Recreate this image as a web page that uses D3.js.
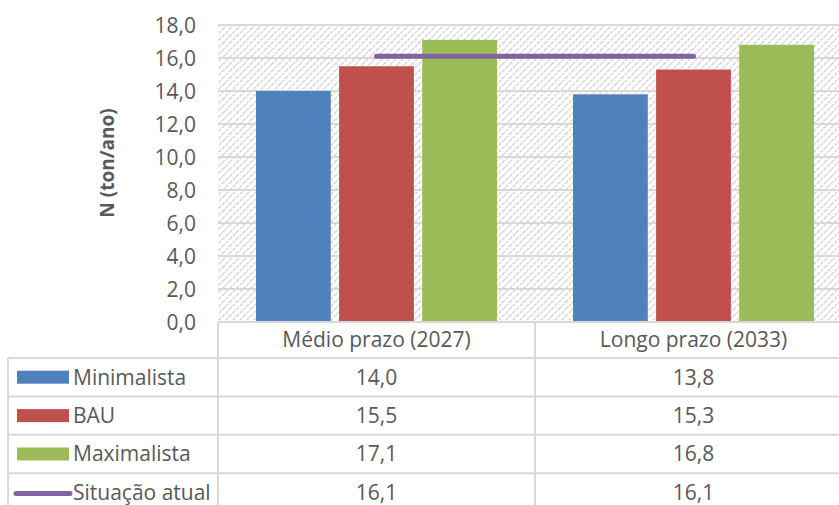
<!DOCTYPE html>
<html><head><meta charset="utf-8">
<script src="https://cdn.jsdelivr.net/npm/d3@7"></script>
<style>body{margin:0;background:#fff;} svg{display:block;}</style>
</head><body>
<svg id="c" width="839" height="505"></svg>
<script>
const categories = ["Médio prazo (2027)", "Longo prazo (2033)"];
const seriesNames = ["Minimalista", "BAU", "Maximalista"];
const minimalista = [14.0, 13.8];
const bau = [15.5, 15.3];
const maximalista = [17.1, 16.8];
const situacaoAtual = [16.1, 16.1];
const yTicks = [0, 2, 4, 6, 8, 10, 12, 14, 16, 18];
const colors = {"Minimalista":"#4F81BD","BAU":"#C0504D","Maximalista":"#9BBB59","Situação atual":"#8064A2"};
const fmt = v => v.toFixed(1).replace(".", ",");

const svg = d3.select("#c");
const font = "'Open Sans', sans-serif";
const txt = "#595959";
const grid = "#D9D9D9";

const L = 218, W = 634, T = 25, B = 322;
const x = d3.scaleBand().domain(categories).range([L, L + W]);
const xs = d3.scaleBand().domain(seriesNames).range([38, x.bandwidth() - 38]).paddingInner(0.1);
const y = d3.scaleLinear().domain([0, 18]).range([B, T]);

// hatch pattern
const defs = svg.append("defs");
const pat = defs.append("pattern").attr("id","hatch").attr("patternUnits","userSpaceOnUse")
  .attr("width",7).attr("height",7);
pat.append("path").attr("d","M-1,8 L8,-1 M-1,1 L1,-1 M6,8 L8,6")
  .attr("stroke","#D3D3D3").attr("stroke-width",1.4).attr("stroke-dasharray","3,1");
svg.append("rect").attr("x",L).attr("y",T).attr("width",W).attr("height",B-T).attr("fill","url(#hatch)");

// gridlines
svg.append("g").selectAll("line").data(yTicks).join("line")
  .attr("x1",L).attr("x2",L+W).attr("y1",d=>y(d)).attr("y2",d=>y(d))
  .attr("stroke",grid).attr("stroke-width",2);

// y axis labels
const yAxis = d3.axisLeft(y).tickValues(yTicks).tickFormat(fmt).tickSize(0).tickPadding(0);
const gy = svg.append("g").attr("transform",`translate(196,0)`).call(yAxis);
gy.select(".domain").remove();
gy.selectAll("text").attr("font-family",font).attr("font-size",21).attr("fill",txt).attr("dy","0.35em");

// y title
svg.append("text").attr("transform","translate(114,163) rotate(-90)")
  .attr("text-anchor","middle").attr("font-family",font).attr("font-size",19)
  .attr("font-weight","bold").attr("fill",txt).text("N (ton/ano)");

// bars
const seriesData = [minimalista, bau, maximalista];
seriesNames.forEach((s, si) => {
  svg.append("g").selectAll("rect").data(categories).join("rect")
    .attr("x", c => x(c) + xs(s)).attr("width", xs.bandwidth())
    .attr("y", (c, i) => y(seriesData[si][i])).attr("height", (c, i) => B - y(seriesData[si][i]))
    .attr("fill", colors[s]);
});

// line
const line = d3.line().x((d, i) => x(categories[i]) + x.bandwidth()/2).y(d => y(d));
svg.append("path").datum(situacaoAtual).attr("d", line).attr("fill","none")
  .attr("stroke", colors["Situação atual"]).attr("stroke-width",5).attr("stroke-linecap","round");

// data table
const rowH = 38.4, top0 = 358;
const tg = svg.append("g");
const tl = (x1,y1,x2,y2) => tg.append("line").attr("x1",x1).attr("y1",y1).attr("x2",x2).attr("y2",y2)
  .attr("stroke",grid).attr("stroke-width",2);
tl(L, B, L+W, B);
for (let r = 0; r <= 4; r++) tl(8, top0 + r*rowH, L+W, top0 + r*rowH);
tl(8, top0, 8, 510);
tl(L, B, L, 510);
tl(L + x.bandwidth(), B, L + x.bandwidth(), 510);
tl(L + W, B, L + W, 510);

// header
svg.append("g").selectAll("text").data(categories).join("text")
  .attr("x", c => x(c) + x.bandwidth()/2).attr("y", (B + top0)/2).attr("dy","0.35em")
  .attr("text-anchor","middle").attr("font-family",font).attr("font-size",21).attr("fill",txt).text(c => c);

const rows = [
  {name:"Minimalista", vals:minimalista, type:"bar"},
  {name:"BAU", vals:bau, type:"bar"},
  {name:"Maximalista", vals:maximalista, type:"bar"},
  {name:"Situação atual", vals:situacaoAtual, type:"line"}
];
rows.forEach((r, ri) => {
  const cy = top0 + ri*rowH + rowH/2;
  if (r.type === "bar") {
    svg.append("rect").attr("x",17).attr("y",cy-6.5).attr("width",52).attr("height",13).attr("fill",colors[r.name]);
  } else {
    svg.append("line").attr("x1",16).attr("x2",70).attr("y1",cy+1).attr("y2",cy+1)
      .attr("stroke",colors[r.name]).attr("stroke-width",5).attr("stroke-linecap","round");
  }
  svg.append("text").attr("x",73).attr("y",cy).attr("dy","0.35em").attr("font-family",font)
    .attr("font-size",21).attr("fill",txt).text(r.name);
  svg.append("g").selectAll("text").data(r.vals).join("text")
    .attr("x",(v,i)=> x(categories[i]) + x.bandwidth()/2).attr("y",cy).attr("dy","0.35em")
    .attr("text-anchor","middle").attr("font-family",font).attr("font-size",21).attr("fill",txt).text(fmt);
});
</script>
</body></html>
